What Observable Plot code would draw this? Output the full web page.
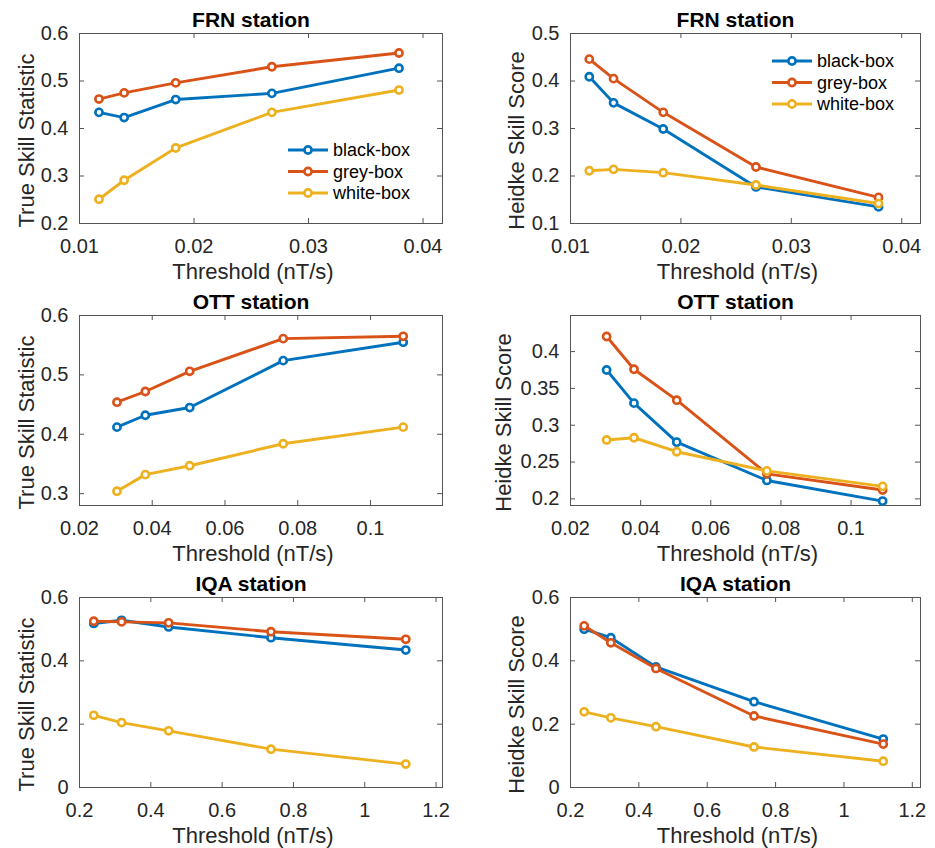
<!DOCTYPE html>
<html>
<head>
<meta charset="utf-8">
<script src="https://cdn.jsdelivr.net/npm/d3@7"></script>
<script src="https://cdn.jsdelivr.net/npm/@observablehq/plot@0.6"></script>
<style>
  html, body { margin: 0; padding: 0; background: #fff; }
  #wrap { position: relative; width: 935px; height: 848px; background: #fff; overflow: hidden; }
  .panel { position: absolute; }
  .legend { position: absolute; left: 0; top: 0; pointer-events: none; }
</style>
</head>
<body>
<div id="wrap"></div>
<script>
// ---------------- DATA ----------------
const series = ["black-box", "grey-box", "white-box"];
const seriesColors = ["#0072BD", "#D95319", "#EDB120"];

const frnThreshold = [0.0117, 0.0139, 0.0184, 0.0268, 0.0379];
const ottThreshold = [0.0303, 0.0381, 0.0503, 0.0760, 0.1090];
const iqaThreshold = [0.240, 0.318, 0.450, 0.737, 1.115];

const frnTSSBlack = [0.434, 0.423, 0.461, 0.474, 0.527];
const frnTSSGrey  = [0.462, 0.475, 0.496, 0.530, 0.559];
const frnTSSWhite = [0.251, 0.291, 0.359, 0.434, 0.481];

const frnHSSBlack = [0.409, 0.354, 0.299, 0.177, 0.135];
const frnHSSGrey  = [0.446, 0.405, 0.334, 0.219, 0.155];
const frnHSSWhite = [0.211, 0.214, 0.207, 0.181, 0.142];

const ottTSSBlack = [0.412, 0.432, 0.445, 0.524, 0.555];
const ottTSSGrey  = [0.454, 0.472, 0.506, 0.561, 0.565];
const ottTSSWhite = [0.304, 0.332, 0.347, 0.384, 0.412];

const ottHSSBlack = [0.375, 0.330, 0.277, 0.225, 0.197];
const ottHSSGrey  = [0.4205, 0.376, 0.334, 0.234, 0.212];
const ottHSSWhite = [0.280, 0.283, 0.264, 0.238, 0.217];

const iqaTSSBlack = [0.518, 0.528, 0.507, 0.473, 0.434];
const iqaTSSGrey  = [0.525, 0.523, 0.520, 0.492, 0.468];
const iqaTSSWhite = [0.228, 0.205, 0.179, 0.121, 0.074];

const iqaHSSBlack = [0.500, 0.473, 0.381, 0.271, 0.153];
const iqaHSSGrey  = [0.5105, 0.457, 0.376, 0.226, 0.137];
const iqaHSSWhite = [0.239, 0.220, 0.192, 0.128, 0.083];

// tick values
const frnXTicks = [0.01, 0.02, 0.03, 0.04];
const ottXTicks = [0.02, 0.04, 0.06, 0.08, 0.1];
const iqaXTicks = [0.2, 0.4, 0.6, 0.8, 1, 1.2];
const frnTSSTicks = [0.2, 0.3, 0.4, 0.5, 0.6];
const frnHSSTicks = [0.1, 0.2, 0.3, 0.4, 0.5];
const ottTSSTicks = [0.3, 0.4, 0.5, 0.6];
const ottHSSTicks = [0.2, 0.25, 0.3, 0.35, 0.4];
const iqaTicks = [0, 0.2, 0.4, 0.6];

const xLabel = "Threshold (nT/s)";
const tssLabel = "True Skill Statistic";
const hssLabel = "Heidke Skill Score";

// ---------------- LAYOUT ----------------
const FONT = "'Liberation Sans', Arial, Helvetica, sans-serif";
const AXIS_COLOR = "#262626";
const BOX_COLOR = "#555555";
const LINE_W = 2.9, DOT_R = 3.6, DOT_W = 2.6;
const H = 282, MT = 33, MB = 59;
const cols = [
  {left: 0, width: 467, ml: 79, mr: 25},
  {left: 467, width: 468, ml: 103, mr: 15}
];

const panels = [
  {row: 0, col: 0, title: "FRN station", ylabel: tssLabel, xs: frnThreshold,
   vals: [frnTSSBlack, frnTSSGrey, frnTSSWhite], xDomain: [0.01, 0.0417], yDomain: [0.2, 0.6],
   xTicks: frnXTicks, yTicks: frnTSSTicks, yGap: 46,
   legend: {x0: 288, y0: 150}},
  {row: 0, col: 1, title: "FRN station", ylabel: hssLabel, xs: frnThreshold,
   vals: [frnHSSBlack, frnHSSGrey, frnHSSWhite], xDomain: [0.01, 0.0417], yDomain: [0.1, 0.5],
   xTicks: frnXTicks, yTicks: frnHSSTicks, yGap: 47,
   legend: {x0: 772, y0: 61}},
  {row: 1, col: 0, title: "OTT station", ylabel: tssLabel, xs: ottThreshold,
   vals: [ottTSSBlack, ottTSSGrey, ottTSSWhite], xDomain: [0.02, 0.1198], yDomain: [0.28, 0.6],
   xTicks: ottXTicks, yTicks: ottTSSTicks, yGap: 46},
  {row: 1, col: 1, title: "OTT station", ylabel: hssLabel, xs: ottThreshold,
   vals: [ottHSSBlack, ottHSSGrey, ottHSSWhite], xDomain: [0.02, 0.1198], yDomain: [0.191, 0.449],
   xTicks: ottXTicks, yTicks: ottHSSTicks, yGap: 60},
  {row: 2, col: 0, title: "IQA station", ylabel: tssLabel, xs: iqaThreshold,
   vals: [iqaTSSBlack, iqaTSSGrey, iqaTSSWhite], xDomain: [0.2, 1.218], yDomain: [0, 0.6],
   xTicks: iqaXTicks, yTicks: iqaTicks, yGap: 46},
  {row: 2, col: 1, title: "IQA station", ylabel: hssLabel, xs: iqaThreshold,
   vals: [iqaHSSBlack, iqaHSSGrey, iqaHSSWhite], xDomain: [0.2, 1.224], yDomain: [0, 0.6],
   xTicks: iqaXTicks, yTicks: iqaTicks, yGap: 47}
];

const fmt = d => String(+d.toFixed(3));
const wrap = document.getElementById("wrap");

panels.forEach(p => {
  const c = cols[p.col];
  const innerW = c.width - c.ml - c.mr;
  const innerH = H - MT - MB;
  const seriesMarks = [];
  series.forEach((s, i) => {
    const rows = p.xs.map((x, j) => ({x, y: p.vals[i][j], s}));
    seriesMarks.push(Plot.line(rows, {x: "x", y: "y", stroke: "s", strokeWidth: LINE_W, strokeLinejoin: "round"}));
    seriesMarks.push(Plot.dot(rows, {x: "x", y: "y", stroke: "s", r: DOT_R, strokeWidth: DOT_W, fill: "white"}));
  });
  const chart = Plot.plot({
    width: c.width, height: H,
    marginLeft: c.ml, marginRight: c.mr, marginTop: MT, marginBottom: MB,
    x: {type: "linear", domain: p.xDomain},
    y: {type: "linear", domain: p.yDomain},
    color: {domain: series, range: seriesColors},
    style: {fontFamily: FONT, fontSize: "20px", color: AXIS_COLOR, background: "transparent", overflow: "visible"},
    marks: [
      Plot.frame({stroke: BOX_COLOR, strokeWidth: 1}),
      Plot.ruleX(p.xTicks, {x: d => d, insetTop: innerH - 5, stroke: BOX_COLOR, strokeWidth: 1}),
      Plot.ruleX(p.xTicks, {x: d => d, insetBottom: innerH - 5, stroke: BOX_COLOR, strokeWidth: 1}),
      Plot.ruleY(p.yTicks, {y: d => d, insetRight: innerW - 5, stroke: BOX_COLOR, strokeWidth: 1}),
      Plot.ruleY(p.yTicks, {y: d => d, insetLeft: innerW - 5, stroke: BOX_COLOR, strokeWidth: 1}),
      Plot.axisX(p.xTicks, {tickSize: 0, tickPadding: 15, tickFormat: fmt, label: null, fontSize: 20}),
      Plot.axisY(p.yTicks, {tickSize: 0, tickPadding: 11, tickFormat: fmt, label: null, fontSize: 20}),
      ...seriesMarks,
      Plot.text([p.title], {frameAnchor: "top", dy: -7, dx: -10, lineAnchor: "bottom", fontWeight: "bold", fontSize: 21, fill: "#000"}),
      Plot.text([xLabel], {frameAnchor: "bottom", dy: 55, dx: -8, lineAnchor: "bottom", fontSize: 22, fill: AXIS_COLOR}),
      Plot.text([p.ylabel], {frameAnchor: "left", rotate: -90, dx: -p.yGap, dy: 12, lineAnchor: "bottom", textAnchor: "middle", fontSize: 22, fill: AXIS_COLOR})
    ]
  });
  const div = document.createElement("div");
  div.className = "panel";
  div.style.left = c.left + "px";
  div.style.top = (p.row * H) + "px";
  div.appendChild(chart);
  wrap.appendChild(div);

  if (p.legend) {
    const svg = d3.select(wrap).append("svg")
      .attr("class", "legend").attr("width", 935).attr("height", 848)
      .style("font-family", FONT);
    const L = p.legend;
    series.forEach((s, i) => {
      const y = L.y0 + i * 21.5;
      svg.append("line").attr("x1", L.x0).attr("x2", L.x0 + 40).attr("y1", y).attr("y2", y)
        .attr("stroke", seriesColors[i]).attr("stroke-width", LINE_W);
      svg.append("circle").attr("cx", L.x0 + 20).attr("cy", y).attr("r", DOT_R)
        .attr("stroke", seriesColors[i]).attr("stroke-width", DOT_W).attr("fill", "white");
      svg.append("text").attr("x", L.x0 + 45).attr("y", y).attr("dy", "0.35em")
        .attr("font-size", 18).attr("fill", "#000").text(s);
    });
  }
});
</script>
</body>
</html>
